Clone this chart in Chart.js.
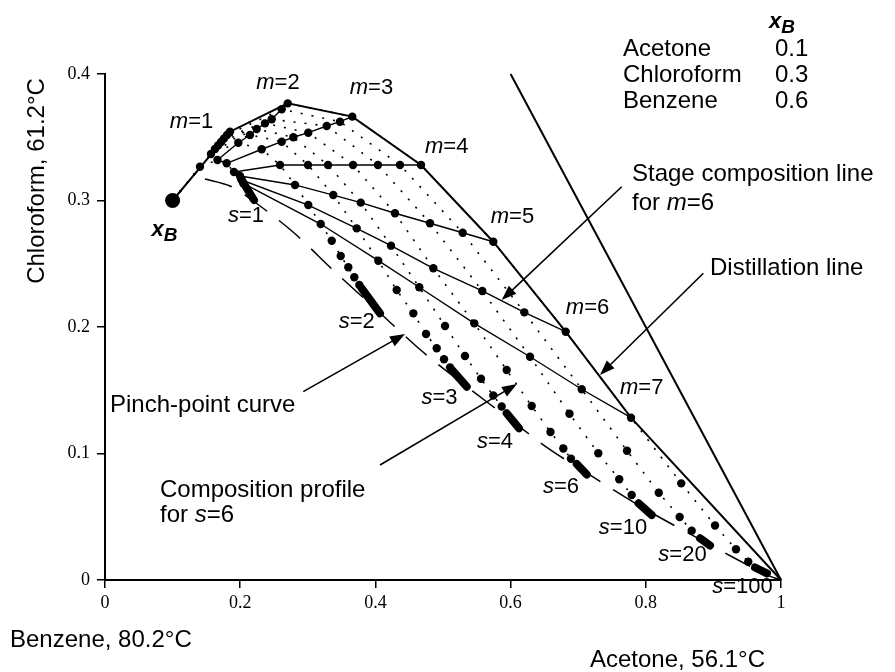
<!DOCTYPE html>
<html>
<head>
<meta charset="utf-8">
<script src="https://cdn.jsdelivr.net/npm/chart.js@4.4.1/dist/chart.umd.min.js"></script>
<style>
  html, body { margin: 0; padding: 0; background: #fff; }
  canvas { display: block; }
</style>
</head>
<body>
<canvas id="profile-chart" width="895" height="672"></canvas>
<script>
/* Stripping profiles, acetone (x) / chloroform (y) / benzene */

// bottoms composition
const xB = [0.1, 0.3];

// reboil ratios
const sValues = ['1', '2', '3', '4', '6', '10', '20', '100'];
const mValues = ['1', '2', '3', '4', '5', '6', '7'];

// stage compositions (stage 1, 2, 3 ...) for each reboil ratio
const stagesS1 = [[0.1405,0.3267],[0.1664,0.3320],[0.1800,0.3294],[0.1908,0.3225],[0.1997,0.3194],[0.2022,0.3162],[0.2046,0.3136]];
const stagesS2 = [[0.1568,0.3368],[0.1972,0.3457],[0.2318,0.3405],[0.2589,0.3281],[0.2811,0.3123],[0.3007,0.2964],[0.3191,0.2814],[0.3354,0.2682],[0.3487,0.2561],[0.3599,0.2472],[0.3688,0.2393],[0.3762,0.2332]];
const stagesS3 = [[0.1627,0.3407],[0.2145,0.3518],[0.2614,0.3465],[0.3003,0.3281],[0.3377,0.3043],[0.3723,0.2780],[0.4043,0.2524],[0.4315,0.2292],[0.4561,0.2108],[0.4749,0.1945],[0.4907,0.1832],[0.5015,0.1745],[0.5104,0.1681]];
const stagesS4 = [[0.1672,0.3435],[0.2244,0.3565],[0.2786,0.3500],[0.3299,0.3281],[0.3783,0.2983],[0.4231,0.2643],[0.4649,0.2314],[0.5030,0.2008],[0.5325,0.1771],[0.5562,0.1591],[0.5744,0.1458],[0.5868,0.1372]];
const stagesS6 = [[0.1716,0.3462],[0.2367,0.3610],[0.3007,0.3536],[0.3669,0.3281],[0.4290,0.2899],[0.4857,0.2464],[0.5463,0.2029],[0.5942,0.1660],[0.6312,0.1375],[0.6590,0.1170],[0.6780,0.1040],[0.6893,0.0959]];
const stagesS10 = [[0.1760,0.3490],[0.2466,0.3642],[0.3280,0.3589],[0.4038,0.3281],[0.4808,0.2820],[0.5581,0.2285],[0.6287,0.1765],[0.6871,0.1314],[0.7297,0.1002],[0.7607,0.0796],[0.7791,0.0672]];
const stagesS20 = [[0.1805,0.3518],[0.2614,0.3721],[0.3476,0.3623],[0.4364,0.3281],[0.5291,0.2745],[0.6203,0.2116],[0.7052,0.1508],[0.7722,0.1022],[0.8192,0.0690],[0.8501,0.0498],[0.8679,0.0390]];
const stagesS100 = [[0.1849,0.3544],[0.2703,0.3768],[0.3658,0.3663],[0.4675,0.3281],[0.5744,0.2674],[0.6815,0.1963],[0.7781,0.1283],[0.8524,0.0764],[0.9024,0.0431],[0.9334,0.0243],[0.9516,0.0145]];

// where the stages crowd together near each pinch point
const pinchS1 = [[0.2012,0.3170],[0.2204,0.3004]];
const pinchS2 = [[0.3797,0.2306],[0.4068,0.2108]];
const pinchS3 = [[0.5133,0.1660],[0.5351,0.1528]];
const pinchS4 = [[0.5942,0.1318],[0.6124,0.1199]];
const pinchS6 = [[0.6978,0.0917],[0.7126,0.0834]];
const pinchS10 = [[0.7892,0.0606],[0.8087,0.0514]];
const pinchS20 = [[0.8802,0.0330],[0.8950,0.0273]];
const pinchS100 = [[0.9615,0.0099],[0.9793,0.0053]];

// pinch-point curve
const pinchCurve = [[0.1479,0.3170],[0.1849,0.3115],[0.2204,0.2992],[0.2781,0.2751],[0.3388,0.2443],[0.4068,0.2111],[0.4704,0.1802],[0.5340,0.1534],[0.6021,0.1257],[0.6568,0.1036],[0.7056,0.0870],[0.7988,0.0561],[0.8876,0.0300],[0.9763,0.0047],[1,0]];

// straight line down to pure acetone
const straightLine = [[0.6, 0.4], [1, 0]];

// tick labels
const xTicks = [0, 0.2, 0.4, 0.6, 0.8, 1];
const yTicks = [0, 0.1, 0.2, 0.3, 0.4];

// label anchors (data units)
const mLabelPos = [[0.1280,0.3621],[0.2559,0.3929],[0.3942,0.3889],[0.5055,0.3423],[0.6028,0.2870],[0.7138,0.2150],[0.7939,0.1518]];
const sLabelPos = [[0.2086,0.2877],[0.3723,0.2040],[0.4948,0.1439],[0.5769,0.1091],[0.6746,0.0735],[0.7663,0.0411],[0.8543,0.0198],[0.9430,-0.0055]];

// callout arrows: [from, to]
const arrows = [
  [[0.7644,0.3109],[0.5868,0.2213]],  // stage composition line
  [[0.8851,0.2425],[0.7322,0.1621]],  // distillation line
  [[0.2933,0.1489],[0.4438,0.1945]],  // pinch-point curve
  [[0.4068,0.0909],[0.6095,0.1549]]   // composition profile
];

const feedTable = [['Acetone', '0.1'], ['Chloroform', '0.3'], ['Benzene', '0.6']];

const allStages = [stagesS1, stagesS2, stagesS3, stagesS4, stagesS6, stagesS10, stagesS20, stagesS100];
const allPinch = [pinchS1, pinchS2, pinchS3, pinchS4, pinchS6, pinchS10, pinchS20, pinchS100];

const SANS = '"Liberation Sans", Arial, sans-serif';
const SERIF = '"Liberation Serif", "Times New Roman", serif';

const pts = arr => arr.map(p => ({ x: p[0], y: p[1] }));

const datasets = [];

// outer profile through the m vertices
datasets.push({
  data: pts([xB].concat(stagesS100.slice(0, 7), [[1, 0]])),
  borderColor: '#000', borderWidth: 2, pointRadius: 0
});

datasets.push({
  data: pts(straightLine),
  borderColor: '#000', borderWidth: 2, pointRadius: 0
});

// stage composition lines m = 2..7
for (let m = 2; m <= 7; m++) {
  datasets.push({
    data: pts(allStages.map(st => st[m - 1])),
    borderColor: '#000', borderWidth: 1.4, pointRadius: 0
  });
}

// composition profiles, dotted, with a dot at each stage
allStages.forEach(st => {
  datasets.push({
    data: pts([xB].concat(st)),
    borderColor: '#000', borderWidth: 1.6, borderDash: [2, 9],
    pointRadius: c => (c.dataIndex === 0 ? 0 : 4.2),
    pointBackgroundColor: '#000', pointBorderWidth: 0
  });
});

allPinch.forEach(p => {
  datasets.push({
    data: pts(p),
    borderColor: '#000', borderWidth: 8, borderCapStyle: 'round', pointRadius: 0
  });
});

datasets.push({
  data: pts(pinchCurve),
  borderColor: '#000', borderWidth: 1.5, borderDash: [28, 15], pointRadius: 0, tension: 0.3
});

datasets.push({
  data: pts([xB]),
  pointRadius: 7.5, pointBackgroundColor: '#000', pointBorderWidth: 0
});

datasets.forEach(d => { d.showLine = true; d.clip = false; d.fill = false; });

// text with italic / bold runs
function drawRuns(ctx, runs, x, y, align) {
  let w = 0;
  runs.forEach(r => { ctx.font = r[1]; w += ctx.measureText(r[0]).width; });
  let cx = align === 'center' ? x - w / 2 : (align === 'right' ? x - w : x);
  ctx.textAlign = 'left';
  runs.forEach(r => {
    ctx.font = r[1];
    ctx.fillText(r[0], cx, y + (r[2] || 0));
    cx += ctx.measureText(r[0]).width;
  });
}

function drawArrow(ctx, x1, y1, x2, y2) {
  const a = Math.atan2(y2 - y1, x2 - x1);
  const len = 15, half = 5.5;
  ctx.beginPath();
  ctx.moveTo(x1, y1);
  ctx.lineTo(x2 - Math.cos(a) * len * 0.8, y2 - Math.sin(a) * len * 0.8);
  ctx.lineWidth = 1.6;
  ctx.stroke();
  ctx.beginPath();
  ctx.moveTo(x2, y2);
  ctx.lineTo(x2 - Math.cos(a) * len + Math.sin(a) * half, y2 - Math.sin(a) * len - Math.cos(a) * half);
  ctx.lineTo(x2 - Math.cos(a) * len - Math.sin(a) * half, y2 - Math.sin(a) * len + Math.cos(a) * half);
  ctx.closePath();
  ctx.fill();
}

const annotations = {
  id: 'annotations',
  afterDatasetsDraw(chart) {
    const ctx = chart.ctx;
    const sx = chart.scales.x, sy = chart.scales.y;
    const px = v => sx.getPixelForValue(v);
    const py = v => sy.getPixelForValue(v);
    const reg = s => s + 'px ' + SANS;
    const ital = s => 'italic ' + s + 'px ' + SANS;
    const bi = s => 'italic bold ' + s + 'px ' + SANS;

    ctx.save();
    ctx.fillStyle = '#000';
    ctx.strokeStyle = '#000';
    ctx.textBaseline = 'middle';

    mValues.forEach((m, i) => {
      drawRuns(ctx, [['m', ital(22)], ['=' + m, reg(22)]], px(mLabelPos[i][0]), py(mLabelPos[i][1]), 'center');
    });
    sValues.forEach((s, i) => {
      drawRuns(ctx, [['s', ital(22)], ['=' + s, reg(22)]], px(sLabelPos[i][0]), py(sLabelPos[i][1]), 'center');
    });

    // bottoms label beside the big dot
    drawRuns(ctx, [['x', bi(22)], ['B', bi(19), 6]], px(0.088), py(0.277), 'center');

    arrows.forEach(a => drawArrow(ctx, px(a[0][0]), py(a[0][1]), px(a[1][0]), py(a[1][1])));

    drawRuns(ctx, [['Stage composition line', reg(24)]], 632, 174, 'left');
    drawRuns(ctx, [['for ', reg(24)], ['m', ital(24)], ['=6', reg(24)]], 632, 203, 'left');
    drawRuns(ctx, [['Distillation line', reg(24)]], 710, 268, 'left');
    drawRuns(ctx, [['Pinch-point curve', reg(24)]], 110, 405, 'left');
    drawRuns(ctx, [['Composition profile', reg(24)]], 160, 490, 'left');
    drawRuns(ctx, [['for ', reg(24)], ['s', ital(24)], ['=6', reg(24)]], 160, 515, 'left');

    // feed table, top right
    drawRuns(ctx, [['x', bi(22)], ['B', bi(19), 6]], 782, 22, 'center');
    feedTable.forEach((row, i) => {
      drawRuns(ctx, [[row[0], reg(24)]], 623, 49 + i * 26, 'left');
      drawRuns(ctx, [[row[1], reg(24)]], 775, 49 + i * 26, 'left');
    });

    // corner / axis names
    drawRuns(ctx, [['Benzene, 80.2°C', reg(24)]], 10, 640, 'left');
    drawRuns(ctx, [['Acetone, 56.1°C', reg(24)]], 765, 660, 'right');
    ctx.translate(37, 181);
    ctx.rotate(-Math.PI / 2);
    drawRuns(ctx, [['Chloroform, 61.2°C', reg(24)]], 0, 0, 'center');
    ctx.restore();
  }
};

const tickFmt = v => String(+Number(v).toFixed(1));

new Chart(document.getElementById('profile-chart'), {
  type: 'scatter',
  data: { datasets: datasets },
  options: {
    responsive: false,
    animation: false,
    events: [],
    layout: { padding: { top: 74, right: 114, left: 0, bottom: 0 } },
    plugins: { legend: { display: false }, tooltip: { enabled: false } },
    scales: {
      x: {
        type: 'linear', min: 0, max: 1,
        afterFit: s => { s.height = 92; },
        afterBuildTicks: s => { s.ticks = xTicks.map(v => ({ value: v })); },
        ticks: { callback: tickFmt, color: '#000', padding: 4, maxRotation: 0,
                 font: { family: SERIF, size: 18 } },
        grid: { display: true, drawOnChartArea: false, drawTicks: true, tickLength: 8, color: '#000', lineWidth: 1.5 },
        border: { display: true, color: '#000', width: 2 }
      },
      y: {
        type: 'linear', min: 0, max: 0.4,
        afterFit: s => { s.width = 105; },
        afterBuildTicks: s => { s.ticks = yTicks.map(v => ({ value: v })); },
        ticks: { callback: tickFmt, color: '#000', padding: 7,
                 font: { family: SERIF, size: 18 } },
        grid: { display: true, drawOnChartArea: false, drawTicks: true, tickLength: 8, color: '#000', lineWidth: 1.5 },
        border: { display: true, color: '#000', width: 2 }
      }
    }
  },
  plugins: [annotations]
});
</script>
</body>
</html>
